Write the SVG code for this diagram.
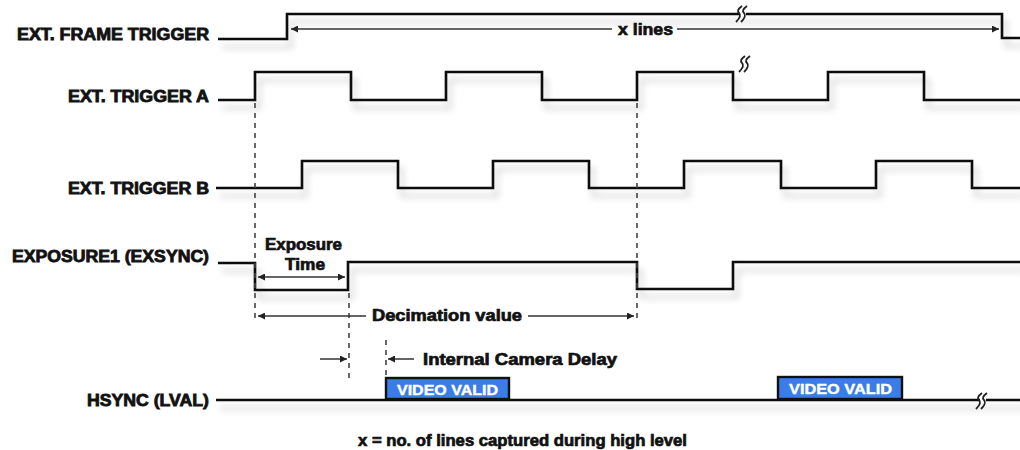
<svg xmlns="http://www.w3.org/2000/svg" xmlns:xlink="http://www.w3.org/1999/xlink" width="1020" height="450" viewBox="0 0 1020 450">
<style>
.lbl{font-family:"Liberation Sans",Arial,sans-serif;font-weight:bold;font-size:16px;fill:#111;stroke:#111;stroke-width:0.8px;text-anchor:end}
.ann{font-family:"Liberation Sans",Arial,sans-serif;font-weight:bold;font-size:16px;fill:#111;stroke:#111;stroke-width:0.7px}
.vv{font-family:"Liberation Sans",Arial,sans-serif;font-weight:bold;font-size:15px;fill:#fff;stroke:#fff;stroke-width:0.4px}
.wave{fill:none;stroke:#111;stroke-width:2.6;stroke-linejoin:miter}
.dash{fill:none;stroke:#444;stroke-width:1.6;stroke-dasharray:5 5}
.arr{fill:none;stroke:#333;stroke-width:1.5}
.box{fill:#3a7de6;stroke:#111;stroke-width:2.4}
.sq{fill:none;stroke:#222;stroke-width:1.8}
</style>
<defs>
<filter id="sh" filterUnits="userSpaceOnUse" x="0" y="0" width="1020" height="450">
<feGaussianBlur in="SourceAlpha" stdDeviation="3.5"/>
<feOffset dx="4" dy="8" result="b"/>
<feComponentTransfer><feFuncA type="linear" slope="0.22"/></feComponentTransfer>
<feMerge><feMergeNode/><feMergeNode in="SourceGraphic"/></feMerge>
</filter>
<marker id="ah" viewBox="0 0 10 10" refX="10" refY="5" markerWidth="7" markerHeight="7" markerUnits="userSpaceOnUse" orient="auto-start-reverse">
<path d="M0,0 L10,5 L0,10 z" fill="#222"/>
</marker>
<g id="sqg">
<path class="sq" d="M3,-8 C-1,-5 -2,-3 0,-1 C2,1 1,4 -3,8"/>
<path class="sq" d="M8,-8 C4,-5 3,-3 5,-1 C7,1 6,4 2,8"/>
</g>
</defs>
<rect width="1020" height="450" fill="#fff"/>

<g id="frame-trigger">
<text class="lbl" x="209" y="40" textLength="192" lengthAdjust="spacingAndGlyphs">EXT. FRAME TRIGGER</text>
<path class="wave" filter="url(#sh)" d="M218,39 H287 V14 H1002 V38 H1020"/>
<rect x="740" y="10" width="6" height="8" fill="#fff"/>
<use xlink:href="#sqg" x="739" y="14"/>
</g>

<g id="trigger-a">
<text class="lbl" x="209" y="102" textLength="141" lengthAdjust="spacingAndGlyphs">EXT. TRIGGER A</text>
<path class="wave" filter="url(#sh)" d="M218,100 H255 V72 H351 V100 H446 V72 H542 V100 H637 V72 H733 V100 H828 V72 H924 V100 H1020"/>
<use xlink:href="#sqg" x="742" y="64"/>
</g>

<g id="trigger-b">
<text class="lbl" x="209" y="194" textLength="141" lengthAdjust="spacingAndGlyphs">EXT. TRIGGER B</text>
<path class="wave" filter="url(#sh)" d="M216,188 H302 V161 H398 V188 H493 V161 H589 V188 H684 V161 H781 V188 H876 V161 H972 V188 H1020"/>
</g>

<g id="exposure1">
<text class="lbl" x="209" y="262" textLength="197" lengthAdjust="spacingAndGlyphs">EXPOSURE1 (EXSYNC)</text>
<path class="wave" filter="url(#sh)" d="M218,263 H255 V290 H348 V262 H637 V289 H733 V262 H1020"/>
</g>

<g id="hsync">
<text class="lbl" x="209" y="406" textLength="122" lengthAdjust="spacingAndGlyphs">HSYNC (LVAL)</text>
<path class="wave" filter="url(#sh)" d="M216,400 H1020"/>
<rect x="980" y="395" width="6" height="10" fill="#fff"/>
<use xlink:href="#sqg" x="979" y="401"/>
</g>

<g id="video-valid-1">
<rect class="box" x="386" y="378" width="123" height="21"/>
<text class="vv" x="397" y="395" textLength="101" lengthAdjust="spacingAndGlyphs">VIDEO VALID</text>
</g>

<g id="video-valid-2">
<rect class="box" x="778" y="377" width="124" height="22"/>
<text class="vv" x="789" y="394" textLength="103" lengthAdjust="spacingAndGlyphs">VIDEO VALID</text>
</g>

<g id="connectors">
<line class="dash" x1="255" y1="103" x2="255" y2="322"/>
<line class="dash" x1="637" y1="103" x2="637" y2="322"/>
<line class="dash" x1="349" y1="293" x2="349" y2="378"/>
<line class="dash" x1="386" y1="340" x2="386" y2="376"/>

<line class="arr" x1="291" y1="29" x2="612" y2="29" marker-start="url(#ah)"/>
<line class="arr" x1="677" y1="29" x2="999" y2="29" marker-end="url(#ah)"/>

<line class="arr" x1="258" y1="277" x2="345" y2="277" marker-start="url(#ah)" marker-end="url(#ah)"/>

<line class="arr" x1="258" y1="316" x2="366" y2="316" marker-start="url(#ah)"/>
<line class="arr" x1="528" y1="316" x2="634" y2="316" marker-end="url(#ah)"/>

<line class="arr" x1="320" y1="359" x2="347" y2="359" marker-end="url(#ah)"/>
<line class="arr" x1="388" y1="359" x2="414" y2="359" marker-start="url(#ah)"/>
</g>

<g id="annotations">
<text class="ann" x="618" y="35" textLength="55" lengthAdjust="spacingAndGlyphs">x lines</text>
<text class="ann" x="265" y="250" textLength="77" lengthAdjust="spacingAndGlyphs">Exposure</text>
<text class="ann" x="285" y="270" textLength="40" lengthAdjust="spacingAndGlyphs">Time</text>
<text class="ann" x="372" y="321" textLength="150" lengthAdjust="spacingAndGlyphs">Decimation value</text>
<text class="ann" x="423" y="365" textLength="194" lengthAdjust="spacingAndGlyphs">Internal Camera Delay</text>
<text class="ann" x="358" y="446" textLength="329" lengthAdjust="spacingAndGlyphs">x = no. of lines captured during high level</text>
</g>
</svg>
